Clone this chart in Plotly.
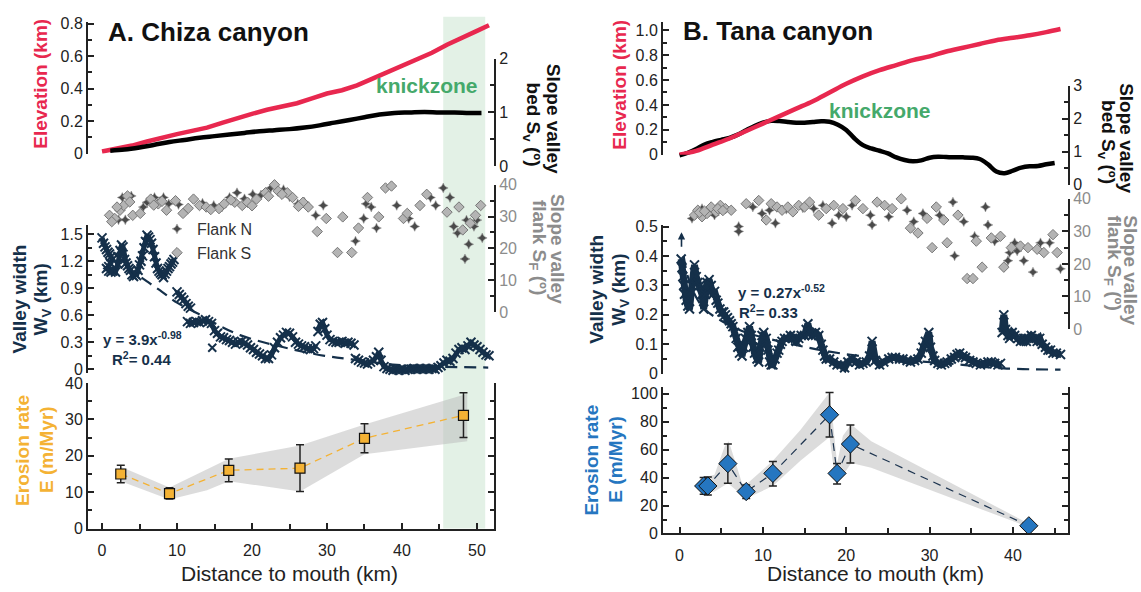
import plotly.graph_objects as go

FONT = "Liberation Sans, Arial, Helvetica, sans-serif"
W, H = 1141, 592

RED = "#E8284F"
NAVY = "#15304A"
ORANGE = "#F4B234"
BLUE = "#2576C0"
GREEN_TXT = "#45A96B"
GRAYLBL = "#8C8C8C"
INK = "#222222"

# ================= Panel A : Chiza canyon =================
elevA_x = [0, 2, 4, 6, 8, 10, 12, 14, 16, 18, 20, 22, 24, 26, 28, 30, 32, 34, 36, 38, 40, 42, 44, 46, 48, 50, 51.6]
elevA = [0.014, 0.03, 0.05, 0.075, 0.10, 0.12, 0.14, 0.16, 0.19, 0.22, 0.245, 0.27, 0.29, 0.31, 0.34, 0.37,
         0.39, 0.42, 0.46, 0.50, 0.54, 0.58, 0.62, 0.67, 0.71, 0.755, 0.79]

bedA_x = [1.1, 3, 5, 7, 9, 11, 13, 15, 17, 19, 21, 23, 25, 27, 29, 31, 33, 35, 37, 39, 41, 43, 45, 47, 49, 50.6]
bedA = [0.29, 0.31, 0.35, 0.40, 0.45, 0.49, 0.53, 0.56, 0.59, 0.62, 0.65, 0.67, 0.69, 0.72, 0.76, 0.81,
        0.86, 0.91, 0.96, 0.99, 1.0, 1.01, 1.0, 1.0, 0.99, 0.99]

flankA_N_x = [2.2, 2.7, 3.1, 3.9, 6.0, 7.0, 8.2, 8.9, 13.4, 14.9, 17.0, 18.0, 20.1, 22.5, 24.2, 26.1, 27.0, 28.5,
              29.5, 33.8, 34.9, 35.2, 35.9, 36.6, 39.3, 40.9, 41.7, 43.8, 44.5, 45.5, 46.4, 46.9, 47.4, 48.4,
              48.9, 48.6, 50.0, 50.7, 49.6, 5.5, 10.2, 16.0, 19.0, 21.2, 25.0]
flankA_N = [29.0, 36.0, 29.0, 36.5, 34.5, 36.0, 36.0, 34.0, 34.2, 33.5, 36.0, 37.5, 37.0, 39.0, 38.5, 34.0, 34.5,
            30.4, 33.5, 22.3, 29.4, 34.0, 33.0, 26.4, 33.5, 29.4, 26.9, 36.0, 33.5, 39.0, 36.0, 26.9, 24.8, 16.7,
            21.3, 28.9, 28.9, 23.3, 26.9, 33.0, 33.8, 33.0, 35.6, 36.8, 36.2]
flankA_S_x = [1.0, 1.7, 2.4, 2.9, 3.4, 4.1, 5.1, 6.5, 7.5, 8.6, 9.8, 10.8, 12.2, 13.0, 13.9, 15.6, 16.3, 17.7,
              18.7, 19.4, 20.6, 21.8, 23.0, 23.5, 24.7, 25.4, 26.8, 27.5, 28.7, 29.9, 31.4, 32.1, 33.3, 34.2,
              35.4, 36.9, 37.8, 38.6, 40.2, 40.7, 42.4, 43.3, 45.0, 46.0, 47.6, 48.1, 49.1, 49.8, 50.5, 1.3,
              2.0, 3.7, 6.9, 8.0, 11.5, 14.5, 17.2, 20.0, 22.2, 24.0, 26.2]
flankA_S = [30.4, 29.4, 32.0, 33.5, 36.5, 30.4, 31.0, 35.5, 34.0, 32.0, 35.0, 31.0, 35.5, 33.5, 33.0, 32.5, 34.0,
            34.5, 33.5, 34.5, 35.5, 37.5, 40.0, 38.0, 37.5, 36.0, 34.5, 33.0, 25.3, 29.4, 18.7, 29.9, 18.7, 26.4,
            36.0, 29.9, 39.0, 39.6, 29.4, 31.0, 33.5, 37.0, 41.6, 31.4, 33.0, 25.8, 27.9, 30.4, 33.5, 28.4, 33.0,
            34.6, 33.6, 34.8, 32.6, 32.2, 35.2, 33.4, 36.4, 37.0, 33.2]

# valley width A (None separates the distinct blobs)
widthA_x = [0.0, 0.2, 0.4, 0.6, 0.8, 1.0, 1.2, 1.4, 1.1, 0.9, 0.6, 0.9, 1.2, 1.5, 1.8, 2.1, 2.4, 2.6, 2.8, 3.0,
            3.2, 3.4, 3.6, 3.8, 4.0, 4.2, 4.4, 4.6, 4.8, 5.0, 5.2, 5.4, 5.6, 5.8, 6.0, 6.2, 6.4, 6.6, 6.8, 7.0,
            7.2, 7.4, 7.6, 7.8, 8.0, 8.2, 8.4, 8.6, 8.8, 9.0, 9.2, 9.4, 9.6, None,
            10.0, 10.3, 10.6, 10.9, 11.2, 11.5, 11.8, None,
            11.4, 11.8, 12.2, 12.6, 13.0, 13.4, 13.8, 14.2, 14.6,
            15.0, 15.4, 15.8, 16.2, 16.6, 17.0, 17.4, 17.8, 18.2, 18.6, 19.0, 19.4, 19.8,
            20.2, 20.6, 21.0, 21.4, 21.8, 22.2, 22.6, 23.0, 23.4, 23.8, 24.2, 24.6, 25.0, 25.4, 25.8, 26.2,
            26.6, 27.0, 27.4, 27.8, 28.2, 28.5, None,
            28.8, 29.1, 29.4, 29.7, 30.0, 30.4, 30.8, 31.2, 31.6, 32.0, 32.4, 32.8, 33.2, 33.6, None,
            33.8, 34.2, 34.6, 35.0, 35.4, 35.8, 36.2, 36.6, 36.9, 37.2,
            37.6, 38.0, 38.4, 38.8, 39.2, 39.6, 40.0, 40.4, 40.8, 41.2, 41.6, 42.0, 42.4, 42.8, 43.2, 43.6,
            44.0, 44.4, 44.8, 45.2,
            45.6, 46.0, 46.4, 46.8, 47.2, 47.6, 48.0, 48.4, 48.8, 49.2, 49.6, 50.0, 50.4, 50.8, 51.2, 51.6]
widthA = [1.46, 1.40, 1.36, 1.33, 1.30, 1.28, 1.25, 1.22, 1.18, 1.14, 1.12, 1.09, 1.08, 1.10, 1.08, 1.17, 1.32,
          1.38, 1.36, 1.22, 1.18, 1.15, 1.12, 1.10, 1.05, 1.03, 1.06, 1.04, 1.10, 1.16, 1.20, 1.26, 1.35, 1.42,
          1.49, 1.47, 1.44, 1.40, 1.33, 1.25, 1.18, 1.12, 1.09, 1.07, 1.05, 1.02, 1.06, 1.09, 1.12, 1.14, 1.17,
          1.19, 1.22, None,
          0.86, 0.83, 0.80, 0.77, 0.73, 0.70, 0.68, None,
          0.53, 0.51, 0.52, 0.53, 0.52, 0.54, 0.55, 0.53, 0.51,
          0.43, 0.40, 0.36, 0.35, 0.33, 0.32, 0.30, 0.28, 0.30, 0.31, 0.29, 0.27, 0.24,
          0.22, 0.19, 0.17, 0.15, 0.12, 0.12, 0.16, 0.24, 0.30, 0.35, 0.38, 0.41, 0.40, 0.36, 0.30, 0.28,
          0.26, 0.25, 0.23, 0.22, 0.23, 0.26, None,
          0.42, 0.50, 0.52, 0.45, 0.38, 0.33, 0.31, 0.30, 0.30, 0.31, 0.29, 0.30, 0.29, 0.27, None,
          0.12, 0.10, 0.08, 0.07, 0.06, 0.08, 0.10, 0.14, 0.19, 0.10,
          0.03, 0.01, 0.0, -0.01, 0.0, -0.01, 0.0, -0.01, 0.0, 0.0, 0.01, 0.0, 0.01, 0.0, 0.01, 0.0,
          0.01, 0.0, 0.02, 0.04,
          0.07, 0.10, 0.09, 0.12, 0.18, 0.22, 0.24, 0.22, 0.26, 0.30, 0.27, 0.25, 0.22, 0.19, 0.16, 0.15]
widthA_stray_x = [14.7]
widthA_stray = [0.24]

fitA_x = [1.5, 4.0, 6.1, 8.0, 10.0, 13.0, 16.0, 18.4, 22.0, 25.5, 29.7, 33.3, 39.3, 45.0, 51.5]
fitA = [1.30, 1.10, 0.97, 0.86, 0.74, 0.61, 0.47, 0.38, 0.29, 0.22, 0.15, 0.11, 0.05, 0.03, 0.02]

eroA_x = [2.5, 9.0, 16.9, 26.4, 35.0, 48.2]
eroA = [15.0, 9.6, 16.0, 16.6, 24.8, 31.1]
eroA_hi = [17.4, 11.2, 19.1, 23.0, 28.8, 37.3]
eroA_lo = [12.6, 8.1, 12.9, 10.2, 20.8, 25.0]

bandA_up_x = [2.5, 9.0, 16.9, 26.4, 35.0, 48.7]
bandA_up = [17.0, 11.3, 19.2, 22.8, 28.6, 37.0]
bandA_lo_x = [2.5, 9.0, 14.0, 16.9, 26.4, 35.0, 48.7]
bandA_lo = [13.0, 8.0, 10.5, 13.0, 10.2, 20.4, 24.0]

knickA = [45.5, 51.1]

# ================= Panel B : Tana canyon =================
elevB_x = [0, 2, 4, 6, 8, 10, 12, 14, 16, 18, 20, 22, 24, 26, 28, 30, 32, 34, 36, 38, 40, 42, 44, 45.7]
elevB = [0.0, 0.03, 0.08, 0.13, 0.19, 0.25, 0.31, 0.37, 0.43, 0.50, 0.57, 0.63, 0.68, 0.72, 0.76, 0.79, 0.83,
         0.86, 0.89, 0.92, 0.94, 0.96, 0.985, 1.01]

bedB_x = [0, 1, 2, 3, 4, 5, 6, 7, 8, 9, 10, 11, 12, 13, 14, 15, 16, 17, 18, 19, 20, 21, 22, 23, 24, 25, 26,
          27, 28, 29, 30, 31, 32, 33, 34, 35, 36, 37, 38, 39, 40, 41, 42, 43, 44, 45]
bedB = [0.89, 0.97, 1.08, 1.22, 1.30, 1.36, 1.42, 1.52, 1.65, 1.78, 1.88, 1.94, 1.93, 1.90, 1.88, 1.88, 1.90,
        1.92, 1.91, 1.82, 1.66, 1.40, 1.20, 1.10, 1.03, 0.95, 0.83, 0.75, 0.71, 0.74, 0.82, 0.85, 0.84, 0.83,
        0.83, 0.82, 0.78, 0.62, 0.40, 0.35, 0.43, 0.52, 0.56, 0.57, 0.62, 0.66]

flankB_N_x = [2.7, 4.2, 7.1, 7.1, 8.8, 9.9, 10.8, 11.5, 16.1, 17.2, 18.3, 19.1, 20.0, 20.7, 21.8, 22.9, 23.1,
              25.1, 27.3, 28.1, 29.2, 31.2, 32.8, 33.0, 34.1, 35.4, 36.7, 37.0, 37.8, 39.4, 39.6, 40.2, 40.5,
              41.3, 42.4, 43.3, 44.4, 45.7, 1.5, 3.6, 12.8, 14.8]
flankB_N = [37.0, 35.0, 31.5, 30.0, 37.5, 35.5, 36.5, 32.5, 37.0, 38.0, 32.5, 35.0, 34.5, 38.0, 40.5, 35.0, 32.0,
            34.5, 36.5, 33.0, 35.5, 35.0, 39.0, 22.5, 33.0, 28.5, 37.5, 32.0, 27.0, 21.0, 23.5, 26.5, 24.0, 21.0,
            17.5, 26.5, 26.5, 18.5, 34.0, 36.0, 36.8, 37.2]
flankB_S_x = [1.8, 2.2, 2.7, 3.3, 3.8, 4.4, 4.9, 5.5, 6.2, 8.0, 8.4, 9.0, 9.5, 10.4, 11.0, 11.7, 12.3, 13.0,
              13.6, 14.3, 15.0, 15.6, 16.7, 17.6, 18.5, 19.6, 20.5, 21.1, 22.0, 22.7, 23.7, 24.2, 24.6, 25.5,
              25.9, 26.6, 27.7, 28.6, 29.7, 30.3, 30.8, 31.7, 32.1, 33.4, 34.5, 35.2, 35.6, 36.3, 37.4, 38.5,
              38.9, 39.8, 40.9, 41.8, 42.9, 43.7, 44.8, 45.3, 2.4, 3.0, 4.6, 5.2]
flankB_S = [35.0, 36.5, 34.5, 35.5, 37.5, 36.0, 38.0, 37.0, 36.5, 38.5, 41.0, 40.5, 39.5, 33.5, 38.5, 37.5, 36.5,
            37.5, 36.0, 38.0, 37.5, 39.0, 35.0, 37.0, 38.0, 37.0, 43.0, 39.5, 37.0, 42.5, 39.0, 40.5, 38.0, 37.0,
            43.5, 40.0, 31.0, 29.5, 34.0, 25.0, 37.5, 33.5, 26.5, 35.0, 15.5, 15.5, 27.0, 19.0, 28.0, 28.5, 19.0,
            25.0, 25.5, 25.0, 24.5, 23.5, 29.0, 23.5, 35.8, 36.2, 37.0, 36.4]

widthB_x = [0.2, 0.3, 0.4, 0.5, 0.6, 0.8, 1.0, 1.2, 1.5, 1.8, 2.0, 2.2, 2.45, 2.7, 2.9, 3.1, 3.3, 3.55, 3.8, 4.0,
            4.2, 4.4, 4.6, 4.85, 5.1, 5.3, 5.5, 5.75, 6.0, 6.2, 6.4, 6.6, 6.8, 7.0, 7.2, 7.5, 7.7, 7.9, 8.2,
            8.4, 8.6, 8.8, 9.0, 9.3, 9.5, 9.7, 9.9, 10.1, 10.4, 10.6, 10.8, 11.0, 11.2, 11.45, 11.7, 11.9,
            12.1, 12.3, 12.6, 13.0, 13.3, 13.6, 14.0, 14.3, 14.6, 15.0, 15.2, 15.4, 15.6, 15.9, 16.3, 16.7,
            17.0, 17.2, 17.4, 17.6, 18.0, 18.5, 18.9, 19.4, 19.8, 20.2, 20.7, 21.2, 21.6, 22.0, 22.4, 22.8,
            23.1, 23.5, 24.0, 24.5, 25.1, 25.5, 25.9, 26.4, 26.8, 27.3, 27.7, 28.2, 28.6, 29.0, 29.2, 29.5,
            29.9, 30.1, 30.4, 30.6, 31.0, 31.4, 31.8, 32.1, 32.6, 33.0, 33.3, 33.6, 34.0, 34.3, 34.8, 35.2,
            35.6, 36.1, 36.6, 37.0, 37.4, 37.8, 38.2, 38.5, None, 38.7, 38.9, 39.1, 39.4, 39.6, 39.9, 40.2, 40.6,
            40.9, 41.3, 41.6, 41.9, 42.2, 42.6, 42.9, 43.2, 43.5, 43.9, 44.2, 44.5, 44.8, 45.2, 45.7]
widthB = [0.39, 0.36, 0.33, 0.30, 0.27, 0.25, 0.23, 0.22, 0.30, 0.37, 0.33, 0.31, 0.30, 0.27, 0.22, 0.27, 0.31,
          0.32, 0.30, 0.27, 0.28, 0.25, 0.24, 0.22, 0.21, 0.21, 0.20, 0.19, 0.18, 0.17, 0.16, 0.14, 0.12, 0.09,
          0.07, 0.06, 0.09, 0.12, 0.14, 0.16, 0.13, 0.09, 0.07, 0.05, 0.04, 0.09, 0.13, 0.14, 0.12, 0.08, 0.04,
          0.03, 0.03, 0.05, 0.07, 0.08, 0.10, 0.11, 0.12, 0.12, 0.13, 0.12, 0.11, 0.12, 0.13, 0.13, 0.15, 0.17,
          0.14, 0.13, 0.14, 0.13, 0.10, 0.08, 0.06, 0.05, 0.05, 0.04, 0.03, 0.03, 0.02, 0.04, 0.05, 0.04, 0.03,
          0.035, 0.04, 0.06, 0.11, 0.045, 0.03, 0.04, 0.05, 0.055, 0.055, 0.05, 0.05, 0.045, 0.04, 0.045, 0.05,
          0.07, 0.09, 0.11, 0.14, 0.09, 0.06, 0.045, 0.035, 0.03, 0.035, 0.04, 0.05, 0.055, 0.065, 0.07, 0.06,
          0.055, 0.045, 0.04, 0.035, 0.03, 0.035, 0.04, 0.04, 0.035, 0.03, 0.035, None, 0.14, 0.20, 0.15, 0.13,
          0.12, 0.14, 0.13, 0.12, 0.11, 0.12, 0.11, 0.12, 0.13, 0.12, 0.11, 0.12, 0.10, 0.09, 0.08, 0.08, 0.07,
          0.07, 0.065]

fitB_x = [0.5, 1, 2, 3, 5, 8, 12, 18, 25, 32, 38.9, 45.7]
fitB = [0.40, 0.33, 0.26, 0.22, 0.18, 0.14, 0.11, 0.075, 0.05, 0.035, 0.018, 0.014]

eroB_x = [2.9, 3.4, 5.8, 8.0, 11.2, 18.0, 18.9, 20.5, 41.9]
eroB = [34, 34, 50, 30, 43, 85, 43, 64, 5.5]
eroB_hi = [40, 40.5, 64, 34.7, 51.6, 101, 50, 77.6, 6]
eroB_lo = [28, 27.5, 36, 25, 34, 69, 35.5, 50.5, 5]

bandB_up_x = [2.9, 4.2, 5.4, 5.9, 6.5, 7.5, 8.0, 11.2, 14.5, 18.0, 18.4, 18.9, 19.6, 20.6, 23.0, 41.9]
bandB_up = [40, 42, 62, 66, 55, 36, 35, 52, 74, 101, 80, 50, 70, 78, 66, 7]
bandB_lo_x = [2.9, 4.2, 5.8, 7.0, 8.0, 11.2, 14.5, 18.0, 18.7, 18.9, 20.6, 23.0, 41.9]
bandB_lo = [28, 30, 36, 30, 25, 34, 52, 69, 37, 35.5, 50.5, 47, 4.5]


def fx(p):
    return p / W


def fy(p):
    return 1 - p / H


def yax(bottom, top, rng, side, dtick, minor, anchor, labelcolor=INK, **kw):
    d = dict(domain=[fy(bottom), fy(top)], range=rng, side=side, anchor=anchor,
             showline=True, linecolor=INK, linewidth=2, ticks="inside", ticklen=6, tickwidth=1.5,
             tickcolor=INK, dtick=dtick, tick0=0, showgrid=False, zeroline=False,
             minor=dict(dtick=minor, ticks="inside", ticklen=4, tickwidth=1.5, tickcolor=INK, showgrid=False),
             tickfont=dict(size=16, color=labelcolor, family=FONT), fixedrange=True)
    d.update(kw)
    return d


def xax(left, right, rng, anchor):
    return dict(domain=[fx(left), fx(right)], range=rng, anchor=anchor, showline=True, linecolor=INK,
                linewidth=2, ticks="inside", ticklen=6, tickwidth=1.5, tickcolor=INK, dtick=10, tick0=0,
                minor=dict(dtick=5, ticks="inside", ticklen=5, tickwidth=1.5, tickcolor=INK, showgrid=False),
                showgrid=False, zeroline=False, tickfont=dict(size=16, color=INK, family=FONT),
                ticklabelstandoff=6, fixedrange=True)


def width_trace(xs, ys, xa, ya, lw):
    return go.Scatter(x=xs, y=ys, xaxis=xa, yaxis=ya, mode="lines+markers", connectgaps=False,
                      line=dict(color=NAVY, width=lw),
                      marker=dict(symbol="x-thin", size=9, line=dict(color=NAVY, width=2)),
                      showlegend=False, cliponaxis=False)


fig = go.Figure()

# ---------- Panel A traces ----------
fig.add_trace(go.Scatter(x=elevA_x, y=elevA, xaxis="x", yaxis="y", mode="lines",
                         line=dict(color=RED, width=4.5), showlegend=False, cliponaxis=False))
fig.add_trace(go.Scatter(x=bedA_x, y=bedA, xaxis="x", yaxis="y2", mode="lines",
                         line=dict(color="#000", width=4.5, shape="spline"), showlegend=False, cliponaxis=False))
fig.add_trace(go.Scatter(x=flankA_N_x, y=flankA_N, xaxis="x", yaxis="y4", mode="markers", name="Flank N",
                         marker=dict(symbol="star-diamond", size=7, color="#4A4A4A",
                                     line=dict(color="#8A8A8A", width=0.5)), cliponaxis=False))
fig.add_trace(go.Scatter(x=flankA_S_x, y=flankA_S, xaxis="x", yaxis="y4", mode="markers", name="Flank S",
                         marker=dict(symbol="diamond", size=8, color="#B4B4B4",
                                     line=dict(color="#777777", width=1)), cliponaxis=False))
fig.add_trace(width_trace(widthA_x, widthA, "x", "y3", 5))
fig.add_trace(go.Scatter(x=widthA_stray_x, y=widthA_stray, xaxis="x", yaxis="y3", mode="markers",
                         marker=dict(symbol="x-thin", size=8, line=dict(color=NAVY, width=2)),
                         showlegend=False, cliponaxis=False))
fig.add_trace(go.Scatter(x=fitA_x, y=fitA, xaxis="x", yaxis="y3", mode="lines",
                         line=dict(color=NAVY, width=2.2, dash="12px,7px", shape="spline"),
                         showlegend=False, cliponaxis=False))
fig.add_trace(go.Scatter(x=bandA_up_x + bandA_lo_x[::-1], y=bandA_up + bandA_lo[::-1], xaxis="x", yaxis="y5",
                         mode="lines", fill="toself", fillcolor="rgba(185,185,185,0.5)",
                         line=dict(width=0), showlegend=False, hoverinfo="skip"))
fig.add_trace(go.Scatter(x=eroA_x, y=eroA, xaxis="x", yaxis="y5", mode="lines+markers",
                         line=dict(color=ORANGE, width=1.3, dash="7px,5px"),
                         marker=dict(symbol="square", size=10, color=ORANGE, line=dict(color="#111", width=1.2)),
                         error_y=dict(type="data", symmetric=False,
                                      array=[h - v for h, v in zip(eroA_hi, eroA)],
                                      arrayminus=[v - l for v, l in zip(eroA, eroA_lo)],
                                      color="#222", thickness=1.5, width=4),
                         showlegend=False, cliponaxis=False))

# ---------- Panel B traces ----------
fig.add_trace(go.Scatter(x=bedB_x, y=bedB, xaxis="x2", yaxis="y6", mode="lines",
                         line=dict(color="#000", width=4.5, shape="spline"), showlegend=False, cliponaxis=False))
fig.add_trace(go.Scatter(x=elevB_x, y=elevB, xaxis="x2", yaxis="y7", mode="lines",
                         line=dict(color=RED, width=4.5, shape="spline"), showlegend=False, cliponaxis=False))
fig.add_trace(go.Scatter(x=flankB_N_x, y=flankB_N, xaxis="x2", yaxis="y9", mode="markers",
                         marker=dict(symbol="star-diamond", size=7, color="#4A4A4A",
                                     line=dict(color="#8A8A8A", width=0.5)), showlegend=False, cliponaxis=False))
fig.add_trace(go.Scatter(x=flankB_S_x, y=flankB_S, xaxis="x2", yaxis="y9", mode="markers",
                         marker=dict(symbol="diamond", size=8, color="#B4B4B4",
                                     line=dict(color="#777777", width=1)), showlegend=False, cliponaxis=False))
fig.add_trace(width_trace(widthB_x, widthB, "x2", "y8", 7))
fig.add_trace(go.Scatter(x=fitB_x, y=fitB, xaxis="x2", yaxis="y8", mode="lines",
                         line=dict(color=NAVY, width=2.2, dash="12px,7px", shape="spline"),
                         showlegend=False, cliponaxis=False))
fig.add_trace(go.Scatter(x=bandB_up_x + bandB_lo_x[::-1], y=bandB_up + bandB_lo[::-1], xaxis="x2", yaxis="y10",
                         mode="lines", fill="toself", fillcolor="rgba(185,185,185,0.5)",
                         line=dict(width=0), showlegend=False, hoverinfo="skip"))
fig.add_trace(go.Scatter(x=eroB_x, y=eroB, xaxis="x2", yaxis="y10", mode="lines+markers",
                         line=dict(color="#1E3550", width=1.2, dash="8px,6px"),
                         marker=dict(symbol="diamond", size=14, color=BLUE, line=dict(color="#111", width=1)),
                         error_y=dict(type="data", symmetric=False,
                                      array=[h - v for h, v in zip(eroB_hi, eroB)],
                                      arrayminus=[v - l for v, l in zip(eroB, eroB_lo)],
                                      color="#222", thickness=1.5, width=4),
                         showlegend=False, cliponaxis=False))

# ---------- Layout ----------
layout = dict(
    width=W, height=H, margin=dict(l=0, r=0, t=0, b=0), autosize=False,
    paper_bgcolor="white", plot_bgcolor="rgba(0,0,0,0)",
    font=dict(family=FONT, color=INK),
    xaxis=xax(88, 494, [-1.87, 52.27], "y5"),
    xaxis2=xax(663, 1068, [-1.98, 46.6], "y10"),
    # panel A
    yaxis=yax(150, 14, [0, 0.812], "left", 0.2, 0.1, "x"),
    yaxis2=yax(163, 52, [0, 2], "right", 1, 0.5, "x"),
    yaxis3=yax(376, 223, [-0.043, 1.607], "left", 0.3, 0.15, "x"),
    yaxis4=yax(313, 182, [0, 40], "right", 10, 5, "x", labelcolor=GRAYLBL),
    yaxis5=yax(536, 386, [0, 40], "left", 10, 5, "x", mirror="ticks"),
    # panel B
    yaxis6=yax(182, 80, [0, 3], "right", 1, 0.5, "x2"),
    yaxis7=yax(151, 14, [0, 1.07], "left", 0.2, 0.1, "x2",
               tickvals=[0, 0.2, 0.4, 0.6, 0.8, 1.0], ticktext=["0", "0.2", "0.4", "0.6", "0.8", "1.0"]),
    yaxis8=yax(376.5, 223, [0, 0.507], "left", 0.1, 0.05, "x2"),
    yaxis9=yax(330.5, 196.5, [0, 40], "right", 10, 5, "x2", labelcolor=GRAYLBL),
    yaxis10=yax(541, 390, [0, 105], "left", 20, 10, "x2", mirror="ticks"),
    legend=dict(x=fx(157), y=fy(210), xanchor="left", yanchor="top", bgcolor="rgba(0,0,0,0)",
                font=dict(size=16, color="#333", family=FONT), itemwidth=30, tracegroupgap=0),
    showlegend=True,
    shapes=[dict(type="rect", xref="x", yref="paper", x0=knickA[0], x1=knickA[1], y0=fy(536), y1=fy(9),
                 fillcolor="#E3F1E6", line=dict(width=0), layer="below")],
)


def ann(text, x, y, size=19, color=INK, angle=0, xanchor="center", yanchor="middle"):
    return dict(text=text, x=fx(x), y=fy(y), xref="paper", yref="paper", showarrow=False,
                textangle=angle, xanchor=xanchor, yanchor=yanchor,
                font=dict(size=size, color=color, family=FONT))


annotations = [
    ann("<b>A. Chiza canyon</b>", 106, 25, size=26, color="#111", xanchor="left"),
    ann("<b>B. Tana canyon</b>", 681, 24, size=26, color="#111", xanchor="left"),
    ann("<b>knickzone</b>", 427, 80, size=21, color=GREEN_TXT),
    ann("<b>knickzone</b>", 880, 106, size=21, color=GREEN_TXT),
    ann("<b>Elevation (km)</b>", 41, 78, color=RED, angle=-90),
    ann("<b>Valley width</b>", 19, 300, color=NAVY, angle=-90),
    ann("<b>W<sub>V</sub> (km)</b>", 42, 300, color=NAVY, angle=-90),
    ann("<b>Erosion rate</b>", 23, 456, color=ORANGE, angle=-90),
    ann("<b>E (m/Myr)</b>", 47, 455, color=ORANGE, angle=-90),
    ann("<b>Slope valley</b>", 553, 114, color="#111", angle=90),
    ann("<b>bed S<sub>v</sub> (º)</b>", 532, 120, color="#111", angle=90),
    ann("<b>Slope valley</b>", 557, 248, color=GRAYLBL, angle=90),
    ann("<b>flank S<sub>F</sub> (º)</b>", 538, 246, color=GRAYLBL, angle=90),
    ann("<b>Elevation (km)</b>", 620, 79, color=RED, angle=-90),
    ann("<b>Valley width</b>", 597, 290, color=NAVY, angle=-90),
    ann("<b>W<sub>V</sub> (km)</b>", 620, 290, color=NAVY, angle=-90),
    ann("<b>Erosion rate</b>", 592, 466, color=BLUE, angle=-90),
    ann("<b>E (m/Myr)</b>", 616, 465, color=BLUE, angle=-90),
    ann("<b>Slope valley</b>", 1127, 134, color="#111", angle=90),
    ann("<b>bed S<sub>v</sub> (º)</b>", 1107, 138, color="#111", angle=90),
    ann("<b>Slope valley</b>", 1131, 270, color=GRAYLBL, angle=90),
    ann("<b>flank S<sub>F</sub> (º)</b>", 1113, 262, color=GRAYLBL, angle=90),
    ann("<b>y = 3.9x<sup>-0.98</sup></b>", 142, 340, size=15, color=NAVY),
    ann("<b>R<sup>2</sup>= 0.44</b>", 141, 361, size=15, color=NAVY),
    ann("<b>y = 0.27x<sup>-0.52</sup></b>", 782, 292, size=15, color=NAVY),
    ann("<b>R<sup>2</sup>= 0.33</b>", 769, 312, size=15, color=NAVY),
    ann("Distance to mouth (km)", 289, 582, size=21, color=INK),
    ann("Distance to mouth (km)", 875, 582, size=21, color=INK),
    dict(x=fx(681.5), y=fy(231), xref="paper", yref="paper", ax=0, ay=16, axref="pixel", ayref="pixel",
         showarrow=True, arrowhead=2, arrowsize=0.9, arrowwidth=1.6, arrowcolor=NAVY, text=""),
]
layout["annotations"] = annotations

fig.update_layout(**layout)
fig.write_html("out.html", config={"displayModeBar": False},
               post_script="document.body.style.margin='0px';")
